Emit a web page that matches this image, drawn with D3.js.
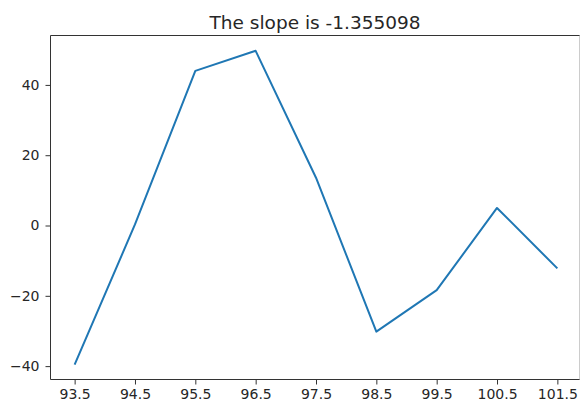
<!DOCTYPE html>
<html>
<head>
<meta charset="utf-8">
<script src="https://cdn.jsdelivr.net/npm/d3@7"></script>
<style>
  html, body { margin: 0; padding: 0; background: #fff; }
  svg { display: block; }
  text { font-family: "DejaVu Sans", sans-serif; fill: #262626; }
</style>
</head>
<body>
<svg id="chart" width="580" height="407"></svg>
<script>
// Sample positions and measured values
const xValues = [93.5, 94.5, 95.5, 96.5, 97.5, 98.5, 99.5, 100.5, 101.5];
const yValues = [-39.6, 0.3, 44.0, 49.7, 13.6, -30.2, -18.4, 5.0, -12.2];
const xTicks = [93.5, 94.5, 95.5, 96.5, 97.5, 98.5, 99.5, 100.5, 101.5];
const yTicks = [-40, -20, 0, 20, 40];
const slope = -1.355098;

const svg = d3.select("#chart");
const W = 580, H = 407;
const box = { left: 50.5, right: 579.5, top: 35.5, bottom: 379.5 };

// Axis limits carry a 5% margin around the data, as in the default plot layout
const x = d3.scaleLinear().domain([93.1, 101.9]).range([50.5, 581.5]);
const y = d3.scaleLinear().domain([-43.75, 54.0]).range([379.3, 35.7]);

const fmtY = d => (d < 0 ? "\u2212" + Math.abs(d) : String(d));

// Line series
const line = d3.line()
  .x((d, i) => x(xValues[i]))
  .y(d => y(d));

svg.append("path")
  .datum(yValues)
  .attr("d", line)
  .attr("fill", "none")
  .attr("stroke", "#1f77b4")
  .attr("stroke-width", 2)
  .attr("stroke-linejoin", "round")
  .attr("stroke-linecap", "butt");

// Axes
const xAxis = d3.axisBottom(x)
  .tickValues(xTicks)
  .tickFormat(d => String(d))
  .tickSize(5)
  .tickPadding(5);

const gx = svg.append("g")
  .attr("transform", `translate(0,${box.bottom})`)
  .call(xAxis);

const yAxis = d3.axisLeft(y)
  .tickValues(yTicks)
  .tickFormat(fmtY)
  .tickSize(5)
  .tickPadding(6);

const gy = svg.append("g")
  .attr("transform", `translate(${box.left},0)`)
  .call(yAxis);

[gx, gy].forEach(g => {
  g.select(".domain").remove();
  g.selectAll(".tick line").attr("stroke", "#333").attr("stroke-width", 1);
  g.selectAll(".tick text")
    .attr("font-size", 14)
    .attr("font-family", "DejaVu Sans, sans-serif")
    .attr("fill", "#262626");
});

// Frame (spines)
svg.append("line").attr("x1", box.left).attr("x2", box.left)
  .attr("y1", box.top).attr("y2", box.bottom).attr("stroke", "#333");
svg.append("line").attr("x1", box.left).attr("x2", W)
  .attr("y1", box.bottom).attr("y2", box.bottom).attr("stroke", "#333");
svg.append("line").attr("x1", box.left).attr("x2", W)
  .attr("y1", box.top).attr("y2", box.top).attr("stroke", "#333");
svg.append("line").attr("x1", box.right).attr("x2", box.right)
  .attr("y1", box.top).attr("y2", box.bottom).attr("stroke", "#ccc");

// Title
svg.append("text")
  .attr("x", (box.left + box.right) / 2)
  .attr("y", 28.5)
  .attr("text-anchor", "middle")
  .attr("font-size", 18.5)
  .text("The slope is " + slope.toFixed(6));
</script>
</body>
</html>
